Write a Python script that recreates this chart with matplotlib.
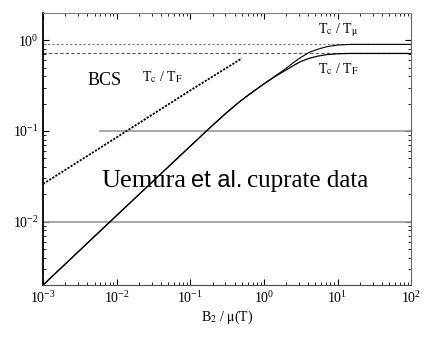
import matplotlib.pyplot as plt
import numpy as np

plt.rcParams["font.family"] = ["Liberation Serif", "DejaVu Serif"]
plt.rcParams["mathtext.fontset"] = "stix"

# ---------------- data ----------------
b2_mu = [1e-3, 1e-2, 0.1, 0.2, 0.3, 0.45, 0.6, 0.8, 1.0, 1.5, 2.0, 2.5,
         3.2, 4.2, 5.5, 7.2, 10.0, 15.0, 100.0]
tc_tmu = [0.002, 0.0117, 0.068, 0.115, 0.155, 0.205, 0.245, 0.29, 0.33,
          0.415, 0.49, 0.565, 0.65, 0.74, 0.80, 0.85, 0.885, 0.90, 0.90]
tc_tf = [0.002, 0.0117, 0.068, 0.115, 0.155, 0.205, 0.245, 0.29, 0.33,
         0.41, 0.47, 0.525, 0.585, 0.635, 0.67, 0.695, 0.71, 0.715, 0.715]

bcs_x = [1e-3, 1e-2, 0.1, 0.5]
bcs_y = [0.026, 0.085, 0.28, 0.63]

limit_mu = 0.90
limit_f = 0.715
grid_levels = [0.1, 0.01]

W, H = 436, 350


def px(x, y):
    # pixel position (from top-left) -> figure fraction
    return x / W, 1 - y / H


fig = plt.figure(figsize=(W / 100, H / 100), dpi=100)
ax = fig.add_axes([0.099, 0.186, 0.844, 0.777])

ax.set_xscale("log")
ax.set_yscale("log")
ax.set_xlim(1e-3, 1e2)
ax.set_ylim(2e-3, 2.0)

# reference levels
ax.axhline(limit_mu, color="0.45", lw=0.8, ls=(0, (2, 2)))
ax.axhline(limit_f, color="0.35", lw=0.8, ls=(0, (3, 2)))
ax.axhline(grid_levels[0], xmin=0.155, color="0.6", lw=1.2)
ax.axhline(grid_levels[1], color="0.6", lw=1.2)

# curves
ax.plot(b2_mu, tc_tmu, color="black", lw=0.8)
ax.plot(b2_mu, tc_tf, color="black", lw=0.9)
ax.plot(bcs_x, bcs_y, color="black", lw=1.3, ls=(0, (1.2, 0.8)))

# labels
fig.text(*px(88, 85), "BCS", fontsize=13, va="baseline")
fig.text(*px(142, 81), r"T$_\mathrm{c}$ / T$_\mathrm{F}$", fontsize=10,
         va="baseline")
fig.text(*px(318, 33), r"T$_\mathrm{c}$ / T$_\mathrm{\mu}$", fontsize=10,
         va="baseline")
fig.text(*px(318, 73), r"T$_\mathrm{c}$ / T$_\mathrm{F}$", fontsize=10,
         va="baseline")

fig.text(*px(101, 187), "Uemura", fontsize=19, va="baseline")
fig.text(*px(191, 187), "et al.", fontsize=17, va="baseline",
         family="Liberation Sans")
fig.text(*px(368, 187), "cuprate data", fontsize=18, va="baseline",
         ha="right")

ax.set_xlabel(r"B$_2$ / $\mathrm{\mu}$(T)", fontsize=10, labelpad=2)

# axes styling
ax.tick_params(which="both", direction="in", top=True, right=True,
               labelsize=10)
ax.tick_params(which="major", length=4)
ax.tick_params(which="minor", length=2)
ax.spines["top"].set_color("0.5")
ax.spines["right"].set_color("0.4")
ax.spines["bottom"].set_color("0.3")
ax.spines["left"].set_color("black")
ax.spines["left"].set_linewidth(1.3)

fig.savefig("out.png", dpi=100)
plt.close(fig)
